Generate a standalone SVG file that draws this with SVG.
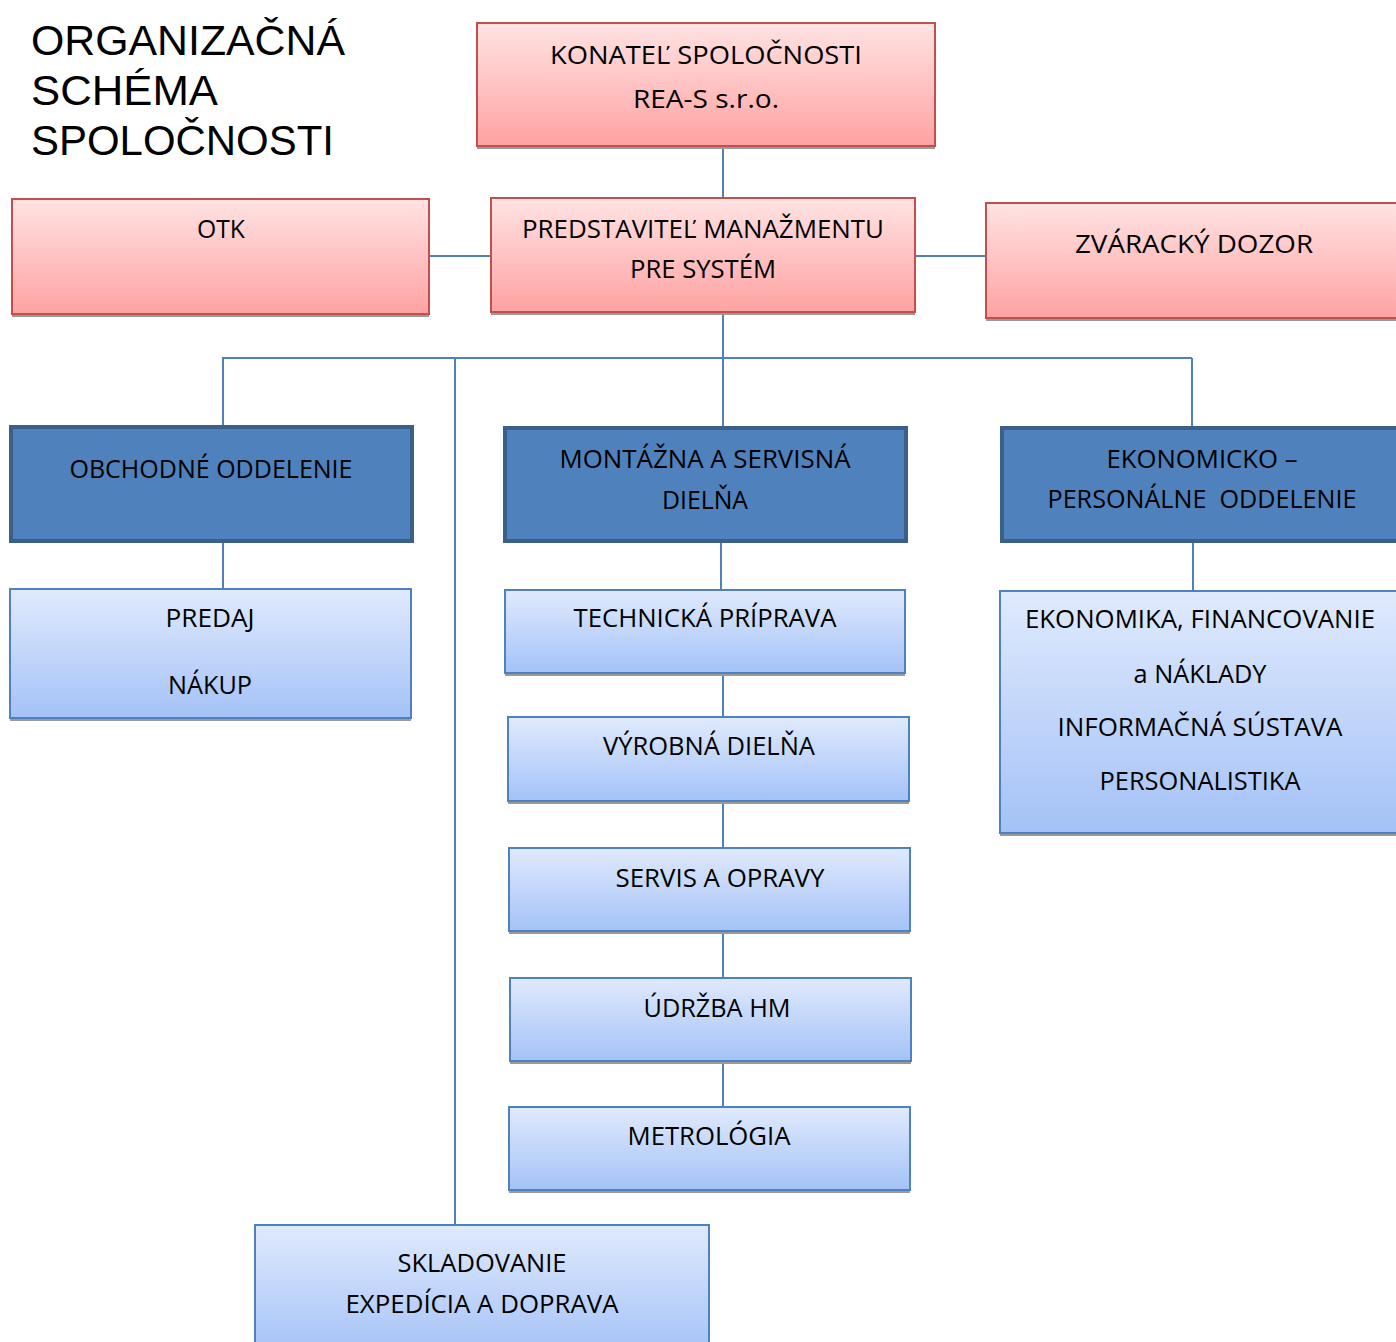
<svg xmlns="http://www.w3.org/2000/svg" width="1396" height="1342" viewBox="0 0 1396 1342">
<style>
.t{font-family:"Open Sans","Liberation Sans",sans-serif;font-size:26px;fill:#000;text-anchor:middle}
.title{font-family:"Liberation Sans","DejaVu Sans",sans-serif;font-size:43px;fill:#000}
.red{fill:url(#gRed);stroke:#c0504d;stroke-width:2}
.dark{fill:#4f81bd;stroke:#3a5f8b;stroke-width:4}
.light{fill:url(#gBlue);stroke:#4f81bd;stroke-width:2}
.sh{fill:#9a9a9a}
.c{stroke:#4f81bd;stroke-width:2;fill:none}
.pre{white-space:pre}
</style>
<defs>
<linearGradient id="gRed" x1="0" y1="0" x2="0" y2="1">
<stop offset="0" stop-color="#ffe3e3"/><stop offset="1" stop-color="#ffa2a2"/>
</linearGradient>
<linearGradient id="gBlue" x1="0" y1="0" x2="0" y2="1">
<stop offset="0" stop-color="#e0eafd"/><stop offset="1" stop-color="#a4c2f7"/>
</linearGradient>
</defs>
<rect width="1396" height="1342" fill="#fff"/>
<g id="title">
<text class="title" x="31" y="55" textLength="314" lengthAdjust="spacingAndGlyphs">ORGANIZAČNÁ</text>
<text class="title" x="31" y="105" textLength="187" lengthAdjust="spacingAndGlyphs">SCHÉMA</text>
<text class="title" x="31" y="155" textLength="303" lengthAdjust="spacingAndGlyphs">SPOLOČNOSTI</text>
</g>
<g id="connectors">
<line class="c" x1="723" y1="146" x2="723" y2="198"/>
<line class="c" x1="429" y1="256" x2="491" y2="256"/>
<line class="c" x1="915" y1="256" x2="986" y2="256"/>
<line class="c" x1="723" y1="312" x2="723" y2="426"/>
<line class="c" x1="222" y1="358" x2="1192" y2="358"/>
<line class="c" x1="223" y1="358" x2="223" y2="426"/>
<line class="c" x1="1192" y1="358" x2="1192" y2="426"/>
<line class="c" x1="455" y1="358" x2="455" y2="1225"/>
<line class="c" x1="223" y1="543" x2="223" y2="589"/>
<line class="c" x1="721" y1="543" x2="721" y2="590"/>
<line class="c" x1="1193" y1="543" x2="1193" y2="591"/>
<line class="c" x1="723" y1="673" x2="723" y2="717"/>
<line class="c" x1="723" y1="801" x2="723" y2="848"/>
<line class="c" x1="723" y1="931" x2="723" y2="978"/>
<line class="c" x1="723" y1="1061" x2="723" y2="1107"/>
</g>
<g id="konatel">
<rect class="sh" x="477" y="145" width="458" height="4"/>
<rect class="red" x="477" y="23" width="458" height="123"/>
<text class="t" x="706" y="64" textLength="312" lengthAdjust="spacingAndGlyphs">KONATEĽ SPOLOČNOSTI</text>
<text class="t" x="706" y="108" textLength="146" lengthAdjust="spacingAndGlyphs">REA-S s.r.o.</text>
</g>
<g id="otk">
<rect class="sh" x="12" y="313" width="417" height="4"/>
<rect class="red" x="12" y="199" width="417" height="115"/>
<text class="t" x="221" y="238" textLength="48" lengthAdjust="spacingAndGlyphs">OTK</text>
</g>
<g id="predstavitel">
<rect class="sh" x="491" y="311" width="424" height="4"/>
<rect class="red" x="491" y="198" width="424" height="114"/>
<text class="t" x="703" y="238" textLength="362" lengthAdjust="spacingAndGlyphs">PREDSTAVITEĽ MANAŽMENTU</text>
<text class="t" x="703" y="278" textLength="146" lengthAdjust="spacingAndGlyphs">PRE SYSTÉM</text>
</g>
<g id="zvaracky">
<rect class="sh" x="986" y="317" width="412" height="4"/>
<rect class="red" x="986" y="203" width="420" height="115"/>
<text class="t" x="1194" y="253" textLength="238" lengthAdjust="spacingAndGlyphs">ZVÁRACKÝ DOZOR</text>
</g>
<g id="obchodne">
<rect class="dark" x="11" y="427" width="401" height="114"/>
<text class="t" x="211" y="478" textLength="283" lengthAdjust="spacingAndGlyphs">OBCHODNÉ ODDELENIE</text>
</g>
<g id="montazna">
<rect class="dark" x="505" y="428" width="401" height="113"/>
<text class="t" x="705" y="468" textLength="291" lengthAdjust="spacingAndGlyphs">MONTÁŽNA A SERVISNÁ</text>
<text class="t" x="705" y="509" textLength="86" lengthAdjust="spacingAndGlyphs">DIELŇA</text>
</g>
<g id="ekonomicko">
<rect class="dark" x="1002" y="428" width="410" height="113"/>
<text class="t" x="1202" y="468" textLength="191" lengthAdjust="spacingAndGlyphs">EKONOMICKO –</text>
<text class="t pre" x="1202" y="508" textLength="309" lengthAdjust="spacingAndGlyphs" xml:space="preserve">PERSONÁLNE  ODDELENIE</text>
</g>
<g id="predaj">
<rect class="sh" x="10" y="717" width="401" height="4"/>
<rect class="light" x="10" y="589" width="401" height="129"/>
<text class="t" x="210" y="627" textLength="89" lengthAdjust="spacingAndGlyphs">PREDAJ</text>
<text class="t" x="210" y="694" textLength="84" lengthAdjust="spacingAndGlyphs">NÁKUP</text>
</g>
<g id="technicka">
<rect class="sh" x="505" y="672" width="400" height="4"/>
<rect class="light" x="505" y="590" width="400" height="83"/>
<text class="t" x="705" y="627" textLength="263" lengthAdjust="spacingAndGlyphs">TECHNICKÁ PRÍPRAVA</text>
</g>
<g id="vyrobna">
<rect class="sh" x="508" y="800" width="401" height="4"/>
<rect class="light" x="508" y="717" width="401" height="84"/>
<text class="t" x="709" y="755" textLength="212" lengthAdjust="spacingAndGlyphs">VÝROBNÁ DIELŇA</text>
</g>
<g id="servis">
<rect class="sh" x="509" y="930" width="401" height="4"/>
<rect class="light" x="509" y="848" width="401" height="83"/>
<text class="t" x="720" y="887" textLength="209" lengthAdjust="spacingAndGlyphs">SERVIS A OPRAVY</text>
</g>
<g id="udrzba">
<rect class="sh" x="510" y="1060" width="401" height="4"/>
<rect class="light" x="510" y="978" width="401" height="83"/>
<text class="t" x="717" y="1017" textLength="147" lengthAdjust="spacingAndGlyphs">ÚDRŽBA HM</text>
</g>
<g id="metrologia">
<rect class="sh" x="509" y="1189" width="401" height="4"/>
<rect class="light" x="509" y="1107" width="401" height="83"/>
<text class="t" x="709" y="1145" textLength="163" lengthAdjust="spacingAndGlyphs">METROLÓGIA</text>
</g>
<g id="ekonomika">
<rect class="sh" x="1000" y="832" width="398" height="4"/>
<rect class="light" x="1000" y="591" width="410" height="242"/>
<text class="t" x="1200" y="628" textLength="350" lengthAdjust="spacingAndGlyphs">EKONOMIKA, FINANCOVANIE</text>
<text class="t" x="1200" y="683" textLength="133" lengthAdjust="spacingAndGlyphs">a NÁKLADY</text>
<text class="t" x="1200" y="736" textLength="285" lengthAdjust="spacingAndGlyphs">INFORMAČNÁ SÚSTAVA</text>
<text class="t" x="1200" y="790" textLength="201" lengthAdjust="spacingAndGlyphs">PERSONALISTIKA</text>
</g>
<g id="skladovanie">
<rect class="light" x="255" y="1225" width="454" height="130"/>
<text class="t" x="482" y="1272" textLength="169" lengthAdjust="spacingAndGlyphs">SKLADOVANIE</text>
<text class="t" x="482" y="1313" textLength="273" lengthAdjust="spacingAndGlyphs">EXPEDÍCIA A DOPRAVA</text>
</g>
</svg>
